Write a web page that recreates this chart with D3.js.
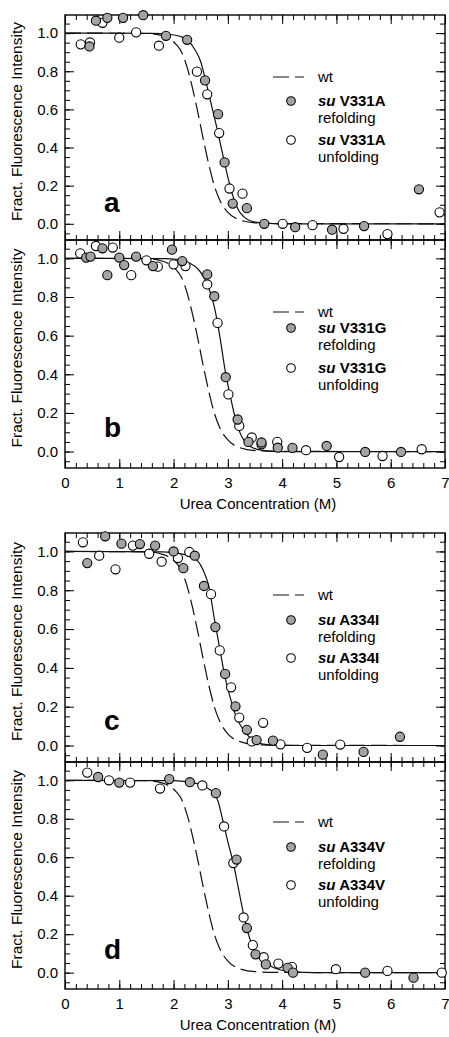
<!DOCTYPE html>
<html>
<head>
<meta charset="utf-8">
<script src="https://cdn.jsdelivr.net/npm/d3@7"></script>
<style>
  body { margin: 0; background: #fff; }
  text { font-family: "Liberation Sans", Arial, sans-serif; }
</style>
</head>
<body>
<div id="chart"></div>
<script>
// Panel letters and mutant names
const panelLetters = ["a", "b", "c", "d"];
const mutantNames = ["V331A", "V331G", "A334I", "A334V"];

// Axis ticks
const xTickValues = [0, 1, 2, 3, 4, 5, 6, 7];
const yTickValues = [0, 0.2, 0.4, 0.6, 0.8, 1.0];

// wt fit (dashed), same in every panel
const wtFit = [[0,1],[1.5,0.998],[1.8,0.985],[1.95,0.965],[2.05,0.94],[2.15,0.9],[2.25,0.82],[2.35,0.71],
  [2.45,0.58],[2.55,0.44],[2.65,0.31],[2.75,0.2],[2.85,0.125],[3.0,0.06],[3.2,0.022],[3.5,0.005],[4.0,0.001],[7,0]];

// mutant fits (solid)
const fitA = [[0,1],[1.6,0.999],[1.9,0.994],[2.1,0.985],[2.25,0.965],[2.4,0.91],[2.5,0.85],[2.6,0.74],[2.7,0.62],
  [2.8,0.5],[2.9,0.37],[3.0,0.245],[3.1,0.14],[3.2,0.07],[3.3,0.035],[3.45,0.012],[3.7,0.003],[4.0,0],[7,0]];
const fitB = [[0,1],[1.8,0.999],[2.1,0.993],[2.3,0.975],[2.45,0.945],[2.55,0.905],[2.65,0.845],[2.75,0.75],[2.85,0.6],
  [2.95,0.42],[3.05,0.28],[3.15,0.16],[3.25,0.08],[3.35,0.04],[3.5,0.015],[3.7,0.004],[4.0,0],[7,0]];
const fitC = [[0,1],[1.8,0.998],[2.1,0.99],[2.3,0.975],[2.45,0.95],[2.55,0.9],[2.65,0.82],[2.75,0.655],[2.85,0.5],
  [2.95,0.35],[3.05,0.24],[3.15,0.15],[3.3,0.075],[3.45,0.03],[3.6,0.01],[3.9,0.002],[4.2,0],[7,0]];
const fitD = [[0,1],[2.0,0.998],[2.3,0.99],[2.5,0.978],[2.65,0.955],[2.75,0.93],[2.82,0.89],[2.9,0.8],[3.0,0.68],
  [3.1,0.57],[3.2,0.43],[3.3,0.29],[3.4,0.18],[3.5,0.11],[3.6,0.07],[3.75,0.04],[3.9,0.02],[4.2,0.005],[4.6,0],[7,0]];

// refolding (filled) and unfolding (open) data
const refoldA = [[0.45,0.93],[0.57,1.065],[0.78,1.08],[1.07,1.08],[1.44,1.094],[1.86,0.986],[2.25,0.965],[2.58,0.752],
  [2.82,0.575],[2.94,0.322],[3.09,0.106],[3.35,0.082],[3.67,0.0],[4.24,-0.018],[4.92,-0.031],[5.51,-0.012],[6.52,0.181]];
const unfoldA = [[0.29,0.941],[0.46,0.951],[0.69,1.054],[1.0,0.976],[1.31,1.004],[1.73,0.934],[2.43,0.798],[2.62,0.679],
  [2.84,0.476],[3.03,0.185],[3.27,0.158],[4.01,0.0],[4.56,-0.007],[5.13,-0.026],[5.94,-0.054],[6.9,0.06]];
const refoldB = [[0.39,1.004],[0.47,1.009],[0.69,1.052],[0.78,0.913],[1.0,1.004],[1.09,0.965],[1.31,1.009],[1.62,0.96],
  [1.97,1.045],[2.16,0.986],[2.62,0.917],[2.75,0.804],[2.96,0.385],[3.18,0.166],[3.38,0.05],[3.62,0.047],[3.92,0.02],
  [4.19,0.019],[4.82,0.029],[5.53,-0.002],[6.19,-0.002]];
const unfoldB = [[0.28,1.026],[0.57,1.064],[0.88,1.056],[1.22,0.913],[1.5,0.99],[1.71,0.957],[2.0,0.969],[2.22,0.96],
  [2.62,0.865],[2.81,0.666],[3.01,0.296],[3.21,0.133],[3.44,0.073],[3.62,0.038],[3.91,0.05],[4.44,0.007],[5.05,-0.028],
  [5.85,-0.023],[6.57,0.012]];
const refoldC = [[0.41,0.94],[0.74,1.078],[1.04,1.04],[1.38,1.038],[1.66,1.03],[2.0,1.0],[2.18,0.914],[2.39,0.978],
  [2.56,0.822],[2.77,0.61],[2.95,0.369],[3.14,0.202],[3.35,0.081],[3.53,0.028],[3.83,0.025],[4.75,-0.047],[5.5,-0.033],[6.17,0.045]];
const unfoldC = [[0.33,1.047],[0.63,0.978],[0.93,0.908],[1.25,1.03],[1.55,0.988],[1.78,0.947],[2.08,0.966],[2.29,0.997],
  [2.69,0.78],[2.85,0.49],[3.06,0.3],[3.21,0.144],[3.44,0.021],[3.65,0.117],[3.97,0.006],[4.46,-0.012],[5.07,0.005]];
const refoldD = [[0.61,1.017],[1.0,0.988],[1.92,1.006],[2.3,0.99],[2.78,0.933],[3.16,0.588],[3.35,0.232],[3.51,0.095],
  [3.7,0.043],[4.1,0.025],[4.2,0.0],[5.53,0.0],[6.42,-0.026]];
const unfoldD = [[0.41,1.04],[0.81,1.0],[1.2,0.988],[1.75,0.957],[2.53,0.973],[2.93,0.76],[3.1,0.57],[3.29,0.287],
  [3.46,0.143],[3.66,0.08],[3.93,0.047],[4.18,0.03],[4.99,0.018],[5.94,0.009],[6.94,0.0]];

const fits = [fitA, fitB, fitC, fitD];
const refolds = [refoldA, refoldB, refoldC, refoldD];
const unfolds = [unfoldA, unfoldB, unfoldC, unfoldD];

// layout
const width = 449, height = 1037;
const left = 65, right = 445;
const tops = [15, 240, 533, 762];
const bottoms = [240, 468, 762, 989];
const legendWt = [62, 72, 62, 60];   // px below panel top
const legendRef = [86, 88, 87, 85];
const legendUnf = [125, 128, 125, 123];
const fillGrey = "#a3a3a3";

const svg = d3.select("#chart").append("svg")
  .attr("width", width)
  .attr("height", height)
  .style("background", "#fff");

const x = d3.scaleLinear().domain([0, 7]).range([left, right]);
const xMinor = d3.range(0, 7.001, 0.2);
const yMinor = d3.range(-0.05, 1.06, 0.05);

panelLetters.forEach((letter, i) => {
  const top = tops[i], bottom = bottoms[i];
  const y = d3.scaleLinear().domain([-0.085, 1.095]).range([bottom, top]);
  const g = svg.append("g");
  const showX = (i === 1 || i === 3);

  // ticks (inward) on all four sides
  const addAxis = (axis, tx, ty) => {
    const a = g.append("g").attr("transform", `translate(${tx},${ty})`).call(axis);
    a.select(".domain").remove();
    a.selectAll("line").attr("stroke", "#000").attr("stroke-width", 1);
    a.selectAll("text").attr("font-size", 15).attr("fill", "#000")
      .style("font-family", '"Liberation Sans", Arial, sans-serif');
    return a;
  };

  addAxis(d3.axisBottom(x).tickValues(xTickValues).tickSize(-9).tickPadding(9)
    .tickFormat(showX ? d3.format("d") : ""), 0, bottom);
  addAxis(d3.axisBottom(x).tickValues(xMinor).tickSize(-5).tickFormat(""), 0, bottom);
  addAxis(d3.axisTop(x).tickValues(xTickValues).tickSize(-9).tickFormat(""), 0, top);
  addAxis(d3.axisTop(x).tickValues(xMinor).tickSize(-5).tickFormat(""), 0, top);
  addAxis(d3.axisLeft(y).tickValues(yTickValues).tickSize(-9).tickPadding(7)
    .tickFormat(d3.format(".1f")), left, 0);
  addAxis(d3.axisLeft(y).tickValues(yMinor).tickSize(-5).tickFormat(""), left, 0);
  addAxis(d3.axisRight(y).tickValues(yTickValues).tickSize(-9).tickFormat(""), right, 0);
  addAxis(d3.axisRight(y).tickValues(yMinor).tickSize(-5).tickFormat(""), right, 0);

  // frame
  g.append("rect")
    .attr("x", left).attr("y", top)
    .attr("width", right - left).attr("height", bottom - top)
    .attr("fill", "none").attr("stroke", "#000").attr("stroke-width", 1.4);

  // y-axis label
  g.append("text")
    .attr("transform", `translate(22,${(top + bottom) / 2 - 6}) rotate(-90)`)
    .attr("text-anchor", "middle")
    .attr("font-size", 15.5)
    .text("Fract. Fluorescence Intensity");

  if (showX) {
    g.append("text")
      .attr("x", (left + right) / 2 + 3)
      .attr("y", bottom + 41)
      .attr("text-anchor", "middle")
      .attr("font-size", 15)
      .text("Urea Concentration (M)");
  }

  // curves
  const line = d3.line().x(d => x(d[0])).y(d => y(d[1])).curve(d3.curveMonotoneX);
  g.append("path").datum(wtFit)
    .attr("d", line).attr("fill", "none").attr("stroke", "#111")
    .attr("stroke-width", 1.2).attr("stroke-dasharray", "16,6");
  g.append("path").datum(fits[i])
    .attr("d", line).attr("fill", "none").attr("stroke", "#111")
    .attr("stroke-width", 1.2);

  // data points
  g.selectAll(".unf").data(unfolds[i]).enter().append("circle")
    .attr("cx", d => x(d[0])).attr("cy", d => y(d[1])).attr("r", 4.6)
    .attr("fill", "#fff").attr("stroke", "#000").attr("stroke-width", 1.1);
  g.selectAll(".ref").data(refolds[i]).enter().append("circle")
    .attr("cx", d => x(d[0])).attr("cy", d => y(d[1])).attr("r", 4.6)
    .attr("fill", fillGrey).attr("stroke", "#000").attr("stroke-width", 1.1);

  // panel letter
  g.append("text")
    .attr("x", 104).attr("y", top + 197)
    .attr("font-size", 28).attr("font-weight", "bold")
    .text(letter);

  // legend
  const lx = 273, mx = 291, tx = 318;
  g.append("line")
    .attr("x1", lx).attr("x2", lx + 31)
    .attr("y1", top + legendWt[i]).attr("y2", top + legendWt[i])
    .attr("stroke", "#111").attr("stroke-width", 1.2).attr("stroke-dasharray", "16,6");
  g.append("text").attr("x", tx).attr("y", top + legendWt[i] + 5)
    .attr("font-size", 15).text("wt");

  [[legendRef[i], fillGrey, "refolding"], [legendUnf[i], "#fff", "unfolding"]].forEach(([dy, fill, label]) => {
    g.append("circle").attr("cx", mx).attr("cy", top + dy).attr("r", 4.3)
      .attr("fill", fill).attr("stroke", "#000").attr("stroke-width", 1.1);
    const t = g.append("text").attr("x", tx).attr("y", top + dy + 5)
      .attr("font-size", 15).attr("font-weight", "bold");
    t.append("tspan").attr("font-style", "italic").text("su");
    t.append("tspan").text(" " + mutantNames[i]);
    g.append("text").attr("x", tx).attr("y", top + dy + 22)
      .attr("font-size", 15).text(label);
  });
});
</script>
</body>
</html>
